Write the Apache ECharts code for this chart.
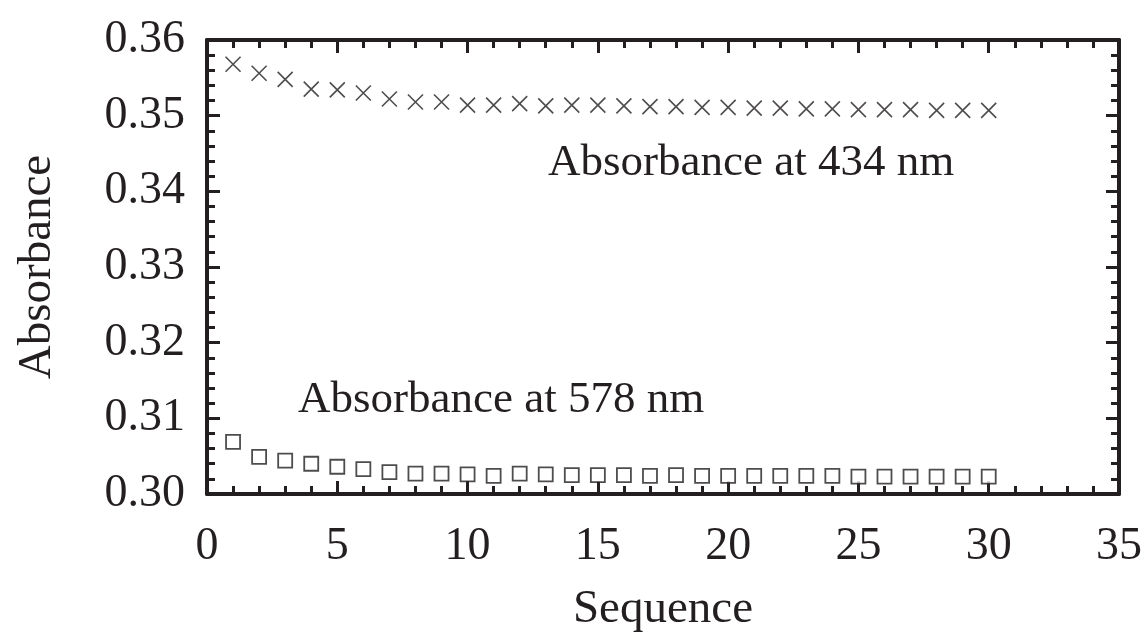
<!DOCTYPE html>
<html>
<head>
<meta charset="utf-8">
<script src="https://cdn.jsdelivr.net/npm/echarts@6/dist/echarts.min.js"></script>
<style>
  html, body { margin: 0; padding: 0; background: #fff; }
  #chart { width: 1146px; height: 636px; }
</style>
</head>
<body>
<div id="chart"></div>
<script>
// sequence numbers 1..30
var sequence = [1, 2, 3, 4, 5, 6, 7, 8, 9, 10, 11, 12, 13, 14, 15,
  16, 17, 18, 19, 20, 21, 22, 23, 24, 25, 26, 27, 28, 29, 30]
// absorbance at 434 nm (crosses)
var abs434 = [0.3568, 0.3556, 0.3548, 0.3535, 0.3534, 0.3530, 0.3522, 0.3518, 0.3518, 0.3514,
  0.3514, 0.3516, 0.3513, 0.3514, 0.3514, 0.3513, 0.3512, 0.3512, 0.3511, 0.3511,
  0.3510, 0.3510, 0.3509, 0.3509, 0.3508, 0.3508, 0.3508, 0.3507, 0.3507, 0.3507]
// absorbance at 578 nm (squares)
var abs578 = [0.3069, 0.3049, 0.3044, 0.3040, 0.3036, 0.3033, 0.3029, 0.3027, 0.3027, 0.3026,
  0.3024, 0.3027, 0.3026, 0.3025, 0.3025, 0.3025, 0.3024, 0.3025, 0.3024, 0.3024,
  0.3024, 0.3024, 0.3024, 0.3024, 0.3023, 0.3023, 0.3023, 0.3023, 0.3023, 0.3023]
var xTicks = [0, 5, 10, 15, 20, 25, 30, 35]
var yTicks = ['0.30', '0.31', '0.32', '0.33', '0.34', '0.35', '0.36']

function pairs(ys) {
  return sequence.map(function (x, i) { return [x, ys[i]] })
}

var font = '"Liberation Serif", "DejaVu Serif", serif'
var chart = echarts.init(document.getElementById('chart'))

function xAx(pos, showLabel) {
  return {
    type: 'value', position: pos, min: 0, max: 35, interval: 5,
    name: showLabel ? 'Sequence' : '', nameLocation: 'middle', nameGap: 92,
    nameTextStyle: { fontFamily: font, fontSize: 47, color: '#231f20' },
    axisLine: { show: true, onZero: false, lineStyle: { color: '#231f20', width: 4 } },
    axisTick: { show: true, inside: true, length: 13, lineStyle: { color: '#231f20', width: 3 } },
    minorTick: { show: true, splitNumber: 5, length: 8, lineStyle: { color: '#231f20', width: 3 } },
    axisLabel: {
      show: showLabel, margin: 30, fontFamily: font, fontSize: 46, color: '#231f20',
      formatter: function (v) { return xTicks.indexOf(v) >= 0 ? String(v) : '' }
    },
    splitLine: { show: false }
  }
}

function yAx(pos, showLabel) {
  return {
    type: 'value', position: pos, min: 0.30, max: 0.36, interval: 0.01,
    name: showLabel ? 'Absorbance' : '', nameLocation: 'middle', nameGap: 146,
    nameTextStyle: { fontFamily: font, fontSize: 47, color: '#231f20' },
    axisLine: { show: true, onZero: false, lineStyle: { color: '#231f20', width: 4 } },
    axisTick: { show: true, inside: true, length: 13, lineStyle: { color: '#231f20', width: 3 } },
    minorTick: { show: true, splitNumber: 5, length: 8, lineStyle: { color: '#231f20', width: 3 } },
    axisLabel: {
      show: showLabel, margin: 22, fontFamily: font, fontSize: 46, color: '#231f20',
      formatter: function (v) { return yTicks[Math.round((v - 0.30) * 100)] }
    },
    splitLine: { show: false }
  }
}

var option = {
  backgroundColor: '#fff',
  animation: false,
  grid: { left: 207, right: 27, top: 40, bottom: 142, outerBoundsMode: 'none', containLabel: false },
  xAxis: [xAx('bottom', true), xAx('top', false)],
  yAxis: [yAx('left', true), yAx('right', false)],
  graphic: [
    {
      type: 'text', left: 548, top: 141,
      style: { text: 'Absorbance at 434 nm', fontFamily: font, fontSize: 45, fill: '#231f20' }
    },
    {
      type: 'text', left: 298, top: 378,
      style: { text: 'Absorbance at 578 nm', fontFamily: font, fontSize: 45, fill: '#231f20' }
    }
  ],
  series: [
    {
      name: '434 nm', type: 'scatter', data: pairs(abs434),
      symbol: 'path://M0,0L10,10M10,0L0,10', symbolSize: 15,
      itemStyle: { color: 'none', borderColor: '#231f20', borderWidth: 1.6 }
    },
    {
      name: '578 nm', type: 'scatter', data: pairs(abs578),
      symbol: 'rect', symbolSize: 14,
      itemStyle: { color: '#fff', borderColor: '#231f20', borderWidth: 1.8 }
    }
  ]
}
chart.setOption(option)
</script>
</body>
</html>
